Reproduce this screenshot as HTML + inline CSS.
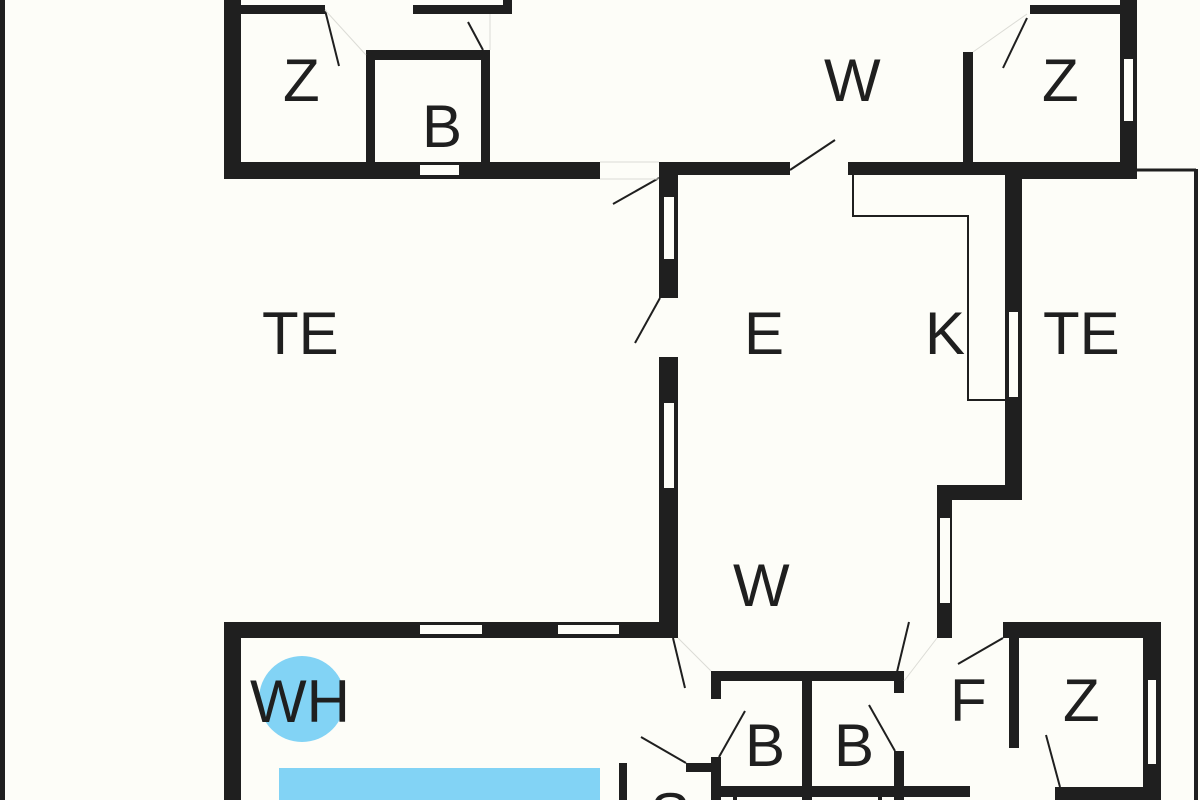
<!DOCTYPE html>
<html><head><meta charset="utf-8"><style>
html,body{margin:0;padding:0;background:#fdfdf8;width:1200px;height:800px;overflow:hidden;}
svg{display:block;}
text{font-family:"Liberation Sans",Arial,sans-serif;font-size:60px;fill:#1f1f1f;}
</style></head><body>
<svg width="1200" height="800" viewBox="0 0 1200 800" xmlns="http://www.w3.org/2000/svg" overflow="hidden">
<defs><clipPath id="c"><rect x="0" y="0" width="1200" height="800"/></clipPath></defs>
<rect width="1200" height="800" fill="#fdfdf8"/>
<rect x="0" y="0" width="5" height="800" fill="#1f1f1f"/>
<line x1="1137" y1="170" x2="1196" y2="170" stroke="#1f1f1f" stroke-width="3"/>
<line x1="1196" y1="169" x2="1196" y2="800" stroke="#1f1f1f" stroke-width="4"/>

<g fill="#1f1f1f">
<rect x="224" y="0" width="17" height="179"/>
<rect x="224" y="162" width="376" height="17"/>
<rect x="240" y="5" width="85" height="9"/>
<rect x="413" y="5" width="99" height="9"/>
<rect x="503" y="0" width="9" height="14"/>
<rect x="366" y="50" width="124" height="10"/>
<rect x="366" y="50" width="9" height="129"/>
<rect x="481" y="50" width="9" height="129"/>
<rect x="659" y="162" width="19" height="136"/>
<rect x="659" y="357" width="19" height="281"/>
<rect x="659" y="162" width="131" height="13"/>
<rect x="848" y="162" width="157" height="13"/>
<rect x="1005" y="162" width="17" height="338"/>
<rect x="937" y="485" width="85" height="15"/>
<rect x="937" y="485" width="15" height="153"/>
<rect x="963" y="52" width="10" height="115"/>
<rect x="1120" y="0" width="17" height="179"/>
<rect x="1030" y="5" width="95" height="9"/>
<rect x="1005" y="162" width="132" height="17"/>
<rect x="224" y="622" width="454" height="16"/>
<rect x="224" y="622" width="17" height="178"/>
<rect x="711" y="671" width="193" height="10"/>
<rect x="711" y="671" width="10" height="28"/>
<rect x="711" y="757" width="10" height="43"/>
<rect x="802" y="671" width="10" height="129"/>
<rect x="894" y="671" width="10" height="22"/>
<rect x="894" y="751" width="10" height="49"/>
<rect x="711" y="786" width="259" height="11"/>
<rect x="686" y="763" width="30" height="9"/>
<rect x="619" y="763" width="8" height="37"/>
<rect x="733" y="796" width="4" height="4"/>
<rect x="878" y="796" width="4" height="4"/>
<rect x="1003" y="622" width="158" height="16"/>
<rect x="1143" y="622" width="18" height="178"/>
<rect x="1009" y="622" width="10" height="126"/>
<rect x="1055" y="787" width="90" height="13"/>
</g>

<g fill="#fdfdf8">
<rect x="420" y="165" width="39" height="10"/>
<rect x="664" y="197" width="10" height="62"/>
<rect x="664" y="403" width="10" height="85"/>
<rect x="1009" y="312" width="9" height="85"/>
<rect x="940" y="518" width="10" height="85"/>
<rect x="1124" y="59" width="9" height="62"/>
<rect x="420" y="625" width="62" height="9"/>
<rect x="558" y="625" width="61" height="9"/>
<rect x="1148" y="680" width="8" height="84"/>
</g>

<g stroke="#1f1f1f" stroke-width="2" fill="none">
<line x1="325" y1="10" x2="339" y2="66"/>
<line x1="468" y1="22" x2="483" y2="50"/>
<line x1="659" y1="178" x2="613" y2="204"/>
<line x1="660" y1="298" x2="635" y2="343"/>
<line x1="790" y1="170" x2="835" y2="140"/>
<line x1="1027" y1="18" x2="1003" y2="68"/>
<line x1="673" y1="638" x2="685" y2="688"/>
<line x1="909" y1="622" x2="897" y2="672"/>
<line x1="641" y1="737" x2="686" y2="763"/>
<line x1="745" y1="711" x2="719" y2="757"/>
<line x1="869" y1="705" x2="895" y2="751"/>
<line x1="1003" y1="638" x2="958" y2="664"/>
<line x1="1046" y1="735" x2="1060" y2="787"/>
<polyline points="853,175 853,216 968,216 968,400 1005,400"/>
</g>
<g stroke="#dcdcd6" stroke-width="1" fill="none">
<line x1="325" y1="10" x2="366" y2="55"/>
<line x1="490" y1="50" x2="490" y2="14"/>
<line x1="600" y1="162" x2="659" y2="162"/>
<line x1="600" y1="179" x2="659" y2="179"/>
<line x1="973" y1="52" x2="1027" y2="14"/>
<line x1="678" y1="638" x2="711" y2="671"/>
<line x1="904" y1="681" x2="937" y2="638"/>
</g>

<circle cx="302" cy="699" r="43" fill="#82d3f5"/>
<rect x="279" y="768" width="321" height="32" fill="#82d3f5"/>

<text x="283" y="101">Z</text>
<text x="422" y="147">B</text>
<text x="824" y="101">W</text>
<text x="1042" y="101">Z</text>
<text x="262" y="354">TE</text>
<text x="744" y="354">E</text>
<text x="925" y="354">K</text>
<text x="1043" y="354">TE</text>
<text x="733" y="606">W</text>
<text x="250" y="722">WH</text>
<text x="745" y="766">B</text>
<text x="834" y="766">B</text>
<text x="950" y="721">F</text>
<text x="1063" y="721">Z</text>
<g clip-path="url(#c)"><text x="650" y="835">S</text></g>
</svg>
</body></html>
